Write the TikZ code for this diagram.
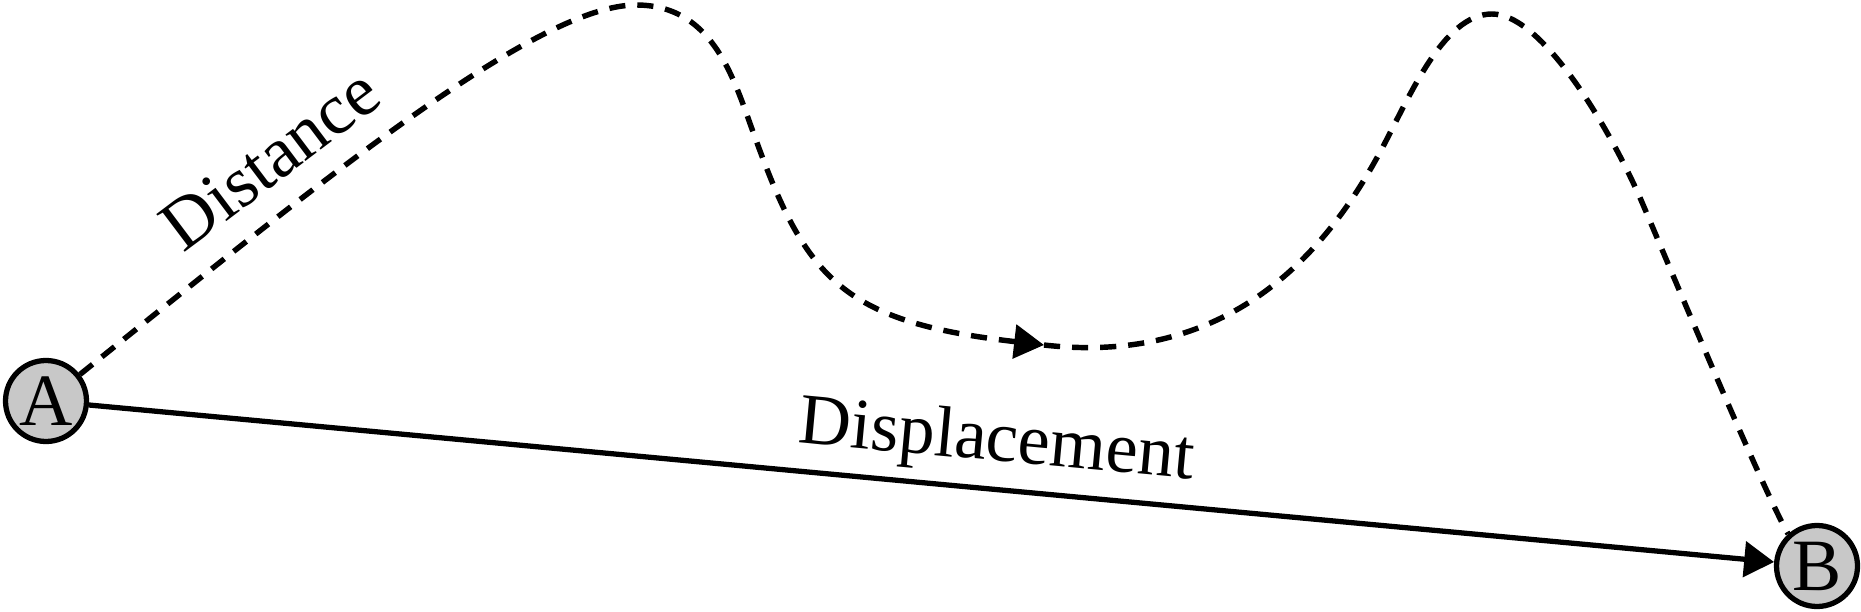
\documentclass[tikz,border=0pt]{standalone}
\usepackage{fontspec}
\setmainfont{Liberation Serif}
\usetikzlibrary{calc, positioning, arrows.meta}
\definecolor{pointgray}{RGB}{200,200,200}
\tikzset{
    point_node/.style={circle, minimum size=0.81cm, inner sep=0pt, text centered, draw=black, line width=1.5pt, fill=pointgray, font=\fontsize{21}{24}\selectfont},
    label_text/.style={text centered, align=center, font=\fontsize{20.5}{24}\selectfont},
    arrow/.style={line width=1.5pt, -{Triangle[length=8.5pt, width=10pt]}},
    dashed_line/.style={line width=1.55pt, dash pattern=on 4.6pt off 3.4pt},
    dashed_arrow/.style={dashed_line, -{Triangle[length=8.5pt, width=9.5pt]}},
}

\begin{document}
\begin{tikzpicture}[x=0.1mm, y=-0.1mm]
    \useasboundingbox (0,0) rectangle (1861,612);
    %%%%%%%%%%
    % Points %
    %%%%%%%%%%
    \node (A) [point_node] at (46,401) {A};
    \node (B) [point_node] at (1817,566) {B};

    \coordinate (peak1) at (636,5);
    \coordinate (drop1) at (756,140);
    \coordinate (mid) at (1044,345);
    \coordinate (rise2) at (1379,154);
    \coordinate (peak2) at (1492,14);
    \coordinate (drop2) at (1641,200);

    % distance (dashed path)
    \draw [dashed_arrow] (A.38) .. controls (317,184) and (536,5) .. (peak1)
        .. controls (716,5) and (735,84) .. (drop1)
        .. controls (807,281) and (845,322) .. (mid);
    \draw [dashed_line] (mid) .. controls (1243,368) and (1336,233) .. (rise2)
        .. controls (1408,101) and (1442,14) .. (peak2)
        .. controls (1542,14) and (1609,127) .. (drop2)
        .. controls (1657,237) and (1762,489) .. (B.132);
    \node (distance) [label_text, rotate=37] at (270,159) {Distance};

    % displacement (straight)
    \draw [arrow] (A) -- (B)
        node (displacement) [label_text, pos=0.536, sloped, above, inner sep=3pt] {Displacement};
\end{tikzpicture}
\end{document}
